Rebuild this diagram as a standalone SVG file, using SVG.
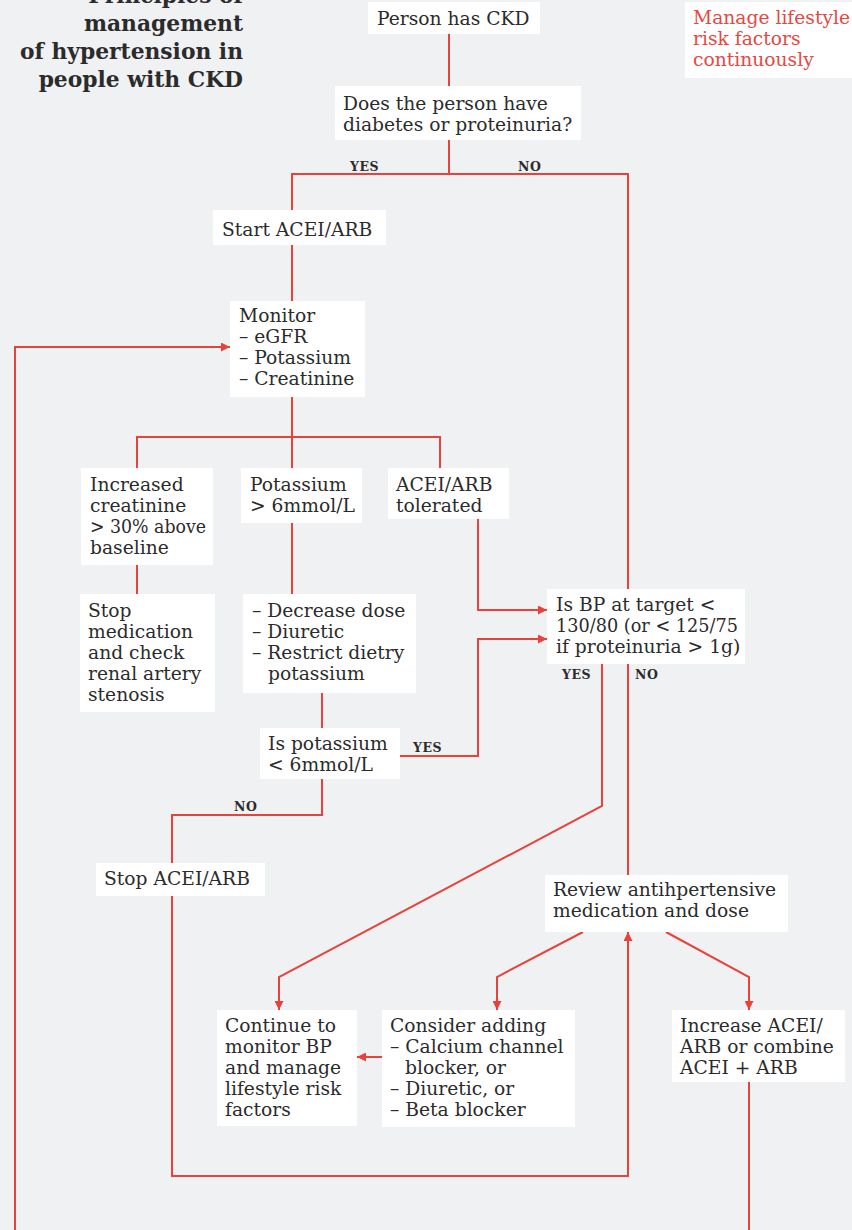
<svg xmlns="http://www.w3.org/2000/svg" width="852" height="1230" viewBox="0 0 852 1230">
<defs>
<style>
.bg{fill:#f0f1f3}
.box{fill:#ffffff}
.t{font-family:"DejaVu Serif","Liberation Serif",serif;font-size:18.7px;fill:#2b2b2b}
.red{fill:#e8473f}
.title{font-family:"DejaVu Serif","Liberation Serif",serif;font-size:21.8px;font-weight:bold;fill:#2b2b2b;text-anchor:end}
.lbl{font-family:"DejaVu Serif","Liberation Serif",serif;font-size:12.5px;font-weight:bold;fill:#2b2b2b;letter-spacing:0.5px}
.c{fill:none;stroke:#e8423a;stroke-width:2}
</style>
<marker id="ah" markerUnits="userSpaceOnUse" markerWidth="9" markerHeight="9" viewBox="0 0 10 10" refX="10" refY="5" orient="auto">
<path d="M0,0 L10,5 L0,10 z" fill="#e8423a"/>
</marker>
</defs>
<rect class="bg" x="0" y="0" width="852" height="1230"/>

<g id="title">
<text class="title" x="243" y="3">Principles of</text>
<text class="title" x="243" y="31">management</text>
<text class="title" x="243" y="59">of hypertension in</text>
<text class="title" x="243" y="87">people with CKD</text>
</g>

<g id="connectors">
<path class="c" d="M449,34 V86"/>
<path class="c" d="M449,140 V174 M292,210 V174 H628 V589"/>
<path class="c" d="M292,245 V301"/>
<path class="c" d="M15,1230 V347 H230" marker-end="url(#ah)"/>
<path class="c" d="M292,397 V469 M137,469 V437 H440 V469"/>
<path class="c" d="M137,565 V594"/>
<path class="c" d="M292,523 V594"/>
<path class="c" d="M322,693 V729"/>
<path class="c" d="M478,519 V610 H547" marker-end="url(#ah)"/>
<path class="c" d="M400,756 H478 V639 H547" marker-end="url(#ah)"/>
<path class="c" d="M322,779 V815 H172 V863"/>
<path class="c" d="M172,896 V1176 H628 V932" marker-end="url(#ah)"/>
<path class="c" d="M602,664 V806 L279,977 V1010" marker-end="url(#ah)"/>
<path class="c" d="M628,664 V875"/>
<path class="c" d="M583,932 L497,977 V1010" marker-end="url(#ah)"/>
<path class="c" d="M666,932 L749,977 V1010" marker-end="url(#ah)"/>
<path class="c" d="M382,1057 H357" marker-end="url(#ah)"/>
<path class="c" d="M749,1082 V1230"/>
<text class="lbl" x="350" y="171">YES</text>
<text class="lbl" x="518" y="171">NO</text>
<text class="lbl" x="562" y="679">YES</text>
<text class="lbl" x="635" y="679">NO</text>
<text class="lbl" x="413" y="752">YES</text>
<text class="lbl" x="234" y="811">NO</text>
</g>

<g id="lifestyle">
<rect class="box" x="685" y="2" width="167" height="76"/>
<text class="t red" x="693" y="24">Manage lifestyle</text>
<text class="t red" x="693" y="45">risk factors</text>
<text class="t red" x="693" y="66">continuously</text>
</g>

<g id="ckd">
<rect class="box" x="368" y="2" width="172" height="32"/>
<text class="t" x="377" y="25">Person has CKD</text>
</g>

<g id="q-diabetes">
<rect class="box" x="335" y="86" width="246" height="54"/>
<text class="t" x="343" y="110">Does the person have</text>
<text class="t" x="343" y="131">diabetes or proteinuria?</text>
</g>

<g id="start">
<rect class="box" x="213" y="210" width="173" height="35"/>
<text class="t" x="222" y="236">Start ACEI/ARB</text>
</g>

<g id="monitor">
<rect class="box" x="230" y="301" width="135" height="96"/>
<text class="t" x="239" y="322">Monitor</text>
<text class="t" x="239" y="343">– eGFR</text>
<text class="t" x="239" y="364">– Potassium</text>
<text class="t" x="239" y="385">– Creatinine</text>
</g>

<g id="creatinine">
<rect class="box" x="81" y="468" width="132" height="97"/>
<text class="t" x="90" y="491">Increased</text>
<text class="t" x="90" y="512">creatinine</text>
<text class="t" x="90" y="533" textLength="116" lengthAdjust="spacingAndGlyphs">&gt; 30% above</text>
<text class="t" x="90" y="554">baseline</text>
</g>

<g id="potassium-high">
<rect class="box" x="241" y="468" width="121" height="55"/>
<text class="t" x="250" y="491">Potassium</text>
<text class="t" x="250" y="512">&gt; 6mmol/L</text>
</g>

<g id="tolerated">
<rect class="box" x="388" y="468" width="121" height="51"/>
<text class="t" x="396" y="491">ACEI/ARB</text>
<text class="t" x="396" y="512">tolerated</text>
</g>

<g id="stop-med">
<rect class="box" x="80" y="594" width="135" height="118"/>
<text class="t" x="88" y="617">Stop</text>
<text class="t" x="88" y="638">medication</text>
<text class="t" x="88" y="659">and check</text>
<text class="t" x="88" y="680">renal artery</text>
<text class="t" x="88" y="701">stenosis</text>
</g>

<g id="decrease">
<rect class="box" x="243" y="594" width="173" height="99"/>
<text class="t" x="252" y="617">– Decrease dose</text>
<text class="t" x="252" y="638">– Diuretic</text>
<text class="t" x="252" y="659">– Restrict dietry</text>
<text class="t" x="268" y="680">potassium</text>
</g>

<g id="q-potassium">
<rect class="box" x="260" y="728" width="140" height="51"/>
<text class="t" x="268" y="750">Is potassium</text>
<text class="t" x="268" y="771">&lt; 6mmol/L</text>
</g>

<g id="stop-acei">
<rect class="box" x="96" y="863" width="169" height="33"/>
<text class="t" x="104" y="885">Stop ACEI/ARB</text>
</g>

<g id="q-bp">
<rect class="box" x="547" y="589" width="198" height="75"/>
<text class="t" x="556" y="611">Is BP at target &lt;</text>
<text class="t" x="556" y="632" textLength="182" lengthAdjust="spacingAndGlyphs">130/80 (or &lt; 125/75</text>
<text class="t" x="556" y="653">if proteinuria &gt; 1g)</text>
</g>

<g id="review">
<rect class="box" x="545" y="875" width="243" height="57"/>
<text class="t" x="553" y="896">Review antihpertensive</text>
<text class="t" x="553" y="917">medication and dose</text>
</g>

<g id="continue">
<rect class="box" x="217" y="1010" width="140" height="116"/>
<text class="t" x="225" y="1032">Continue to</text>
<text class="t" x="225" y="1053">monitor BP</text>
<text class="t" x="225" y="1074">and manage</text>
<text class="t" x="225" y="1095">lifestyle risk</text>
<text class="t" x="225" y="1116">factors</text>
</g>

<g id="consider">
<rect class="box" x="382" y="1010" width="193" height="117"/>
<text class="t" x="390" y="1032">Consider adding</text>
<text class="t" x="390" y="1053">– Calcium channel</text>
<text class="t" x="405" y="1074">blocker, or</text>
<text class="t" x="390" y="1095">– Diuretic, or</text>
<text class="t" x="390" y="1116">– Beta blocker</text>
</g>

<g id="increase">
<rect class="box" x="672" y="1010" width="173" height="72"/>
<text class="t" x="680" y="1032">Increase ACEI/</text>
<text class="t" x="680" y="1053">ARB or combine</text>
<text class="t" x="680" y="1074">ACEI + ARB</text>
</g>
</svg>
